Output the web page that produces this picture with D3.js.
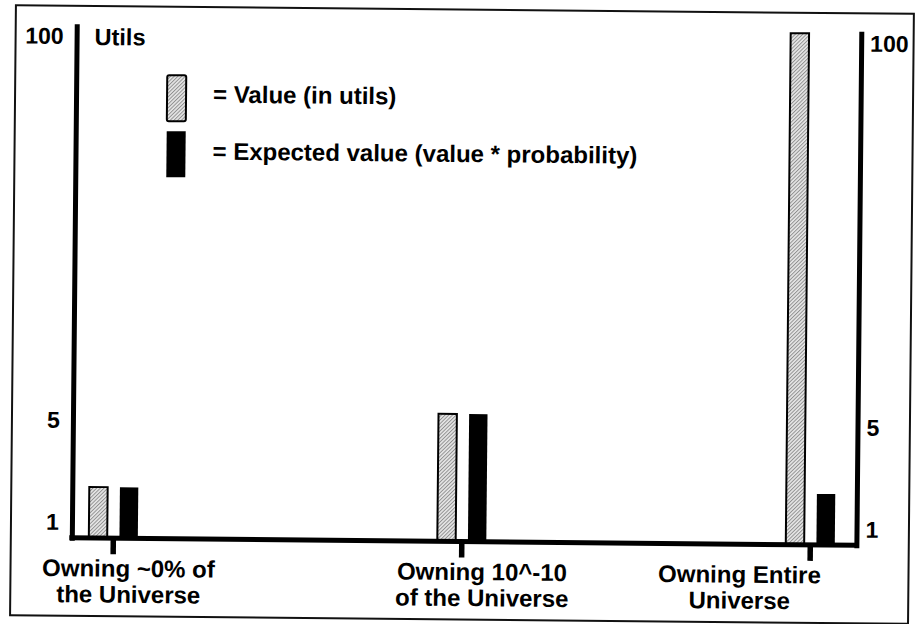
<!DOCTYPE html>
<html>
<head>
<meta charset="utf-8">
<script src="https://cdn.jsdelivr.net/npm/d3@7"></script>
<style>
body { margin: 0; background: #fff; }
text { font-family: "Liberation Sans", Arial, sans-serif; font-weight: bold; fill: #000; }
</style>
</head>
<body>
<svg id="chart" width="919" height="624"></svg>
<script>
// data
const categories = ["Owning ~0% of the Universe", "Owning 10^-10 of the Universe", "Owning Entire Universe"];
const categoryLines = [["Owning ~0% of", "the Universe"], ["Owning 10^-10", "of the Universe"], ["Owning Entire", "Universe"]];
const series = ["value", "expected"];
const seriesLabels = ["= Value (in utils)", "= Expected value (value * probability)"];
const values = [2, 5, 100];
const expectedValues = [2, 5, 2];
const yTicks = [1, 5, 100];
const yBreaks = [0, 5, 100];

// layout (the scan is tilted a little, so the whole drawing is rotated)
const svg = d3.select("#chart"),
    axLeft = 74, axRight = 858.6, base = 541.5, axTop = 30,
    labelShift = [16, 21, -70];

svg.append("defs").append("pattern")
    .attr("id", "hatch")
    .attr("width", 2.6).attr("height", 2.6)
    .attr("patternUnits", "userSpaceOnUse")
    .attr("patternTransform", "rotate(45)")
    .call(p => {
        p.append("rect").attr("width", 2.6).attr("height", 2.6).attr("fill", "#e6e6e6");
        p.append("line").attr("x1", 0.5).attr("y1", 0).attr("x2", 0.5).attr("y2", 2.6)
            .attr("stroke", "#8a8a8a").attr("stroke-width", 0.9);
    });

const g = svg.append("g").attr("transform", "rotate(0.55 460 312)");

g.append("rect")
    .attr("x", 13).attr("y", 9.5).attr("width", 898).attr("height", 610)
    .attr("fill", "none").attr("stroke", "#111").attr("stroke-width", 2);

const x = d3.scalePoint().domain(categories).range([115, 812]);
const xs = d3.scaleBand().domain(series).range([-24, 25]).paddingInner(0.4);
const y = d3.scaleLinear().domain(yBreaks).range([base, 414, axTop]);

// bars
const rows = categories.map((c, i) => ({ cat: c, value: values[i], expected: expectedValues[i] }));
const groups = g.selectAll(".grp").data(rows).join("g")
    .attr("class", "grp")
    .attr("transform", d => `translate(${x(d.cat)},0)`);

groups.selectAll("rect")
    .data(d => series.map(s => ({ s: s, v: d[s] })))
    .join("rect")
    .attr("x", d => xs(d.s))
    .attr("y", d => y(d.v))
    .attr("width", xs.bandwidth())
    .attr("height", d => base - y(d.v))
    .attr("fill", d => d.s == "value" ? "url(#hatch)" : "#000")
    .attr("stroke", d => d.s == "value" ? "#000" : "none")
    .attr("stroke-width", 2);

// axes
const axisL = g.append("g").attr("transform", `translate(${axLeft},0)`)
    .call(d3.axisLeft(y).tickValues(yTicks).tickSize(0).tickPadding(13).tickFormat(d3.format("d")));
const axisR = g.append("g").attr("transform", `translate(${axRight},0)`)
    .call(d3.axisRight(y).tickValues(yTicks).tickSize(0).tickPadding(9).tickFormat(d3.format("d")));
[axisL, axisR].forEach(a => {
    a.attr("font-family", null).attr("font-size", null);
    a.select(".domain").attr("stroke", "#000").attr("stroke-width", 5).attr("stroke-linecap", "square");
    a.selectAll("text").attr("font-size", 23).attr("dy", "0.75em");
});

g.append("line")
    .attr("x1", axLeft - 2.5).attr("x2", axRight + 2.5)
    .attr("y1", base).attr("y2", base)
    .attr("stroke", "#000").attr("stroke-width", 5);

const axisB = g.append("g").attr("transform", `translate(0,${base})`)
    .call(d3.axisBottom(x).tickSize(16).tickFormat(""));
axisB.select(".domain").remove();
axisB.selectAll("line").attr("stroke", "#000").attr("stroke-width", 5.5);

// category labels
g.selectAll(".cat").data(categoryLines).join("text")
    .attr("class", "cat")
    .attr("text-anchor", "middle")
    .attr("font-size", 24)
    .attr("transform", (d, i) => `translate(${x(categories[i]) + labelShift[i]},580)`)
    .selectAll("tspan").data(d => d).join("tspan")
    .attr("x", 0)
    .attr("y", (d, j) => j * 26)
    .text(d => d);

g.append("text").attr("x", 92).attr("y", 48.5).attr("font-size", 23.5).text("Utils");

// legend
const legend = g.selectAll(".leg").data(series).join("g")
    .attr("class", "leg")
    .attr("transform", (d, i) => `translate(165,${78 + i * 56})`);
legend.append("rect")
    .attr("width", 19).attr("height", 46)
    .attr("rx", d => d == "value" ? 2 : 0)
    .attr("fill", d => d == "value" ? "url(#hatch)" : "#000")
    .attr("stroke", d => d == "value" ? "#000" : "none")
    .attr("stroke-width", 2);
legend.append("text")
    .attr("x", 46).attr("y", (d, i) => 27 + i)
    .attr("font-size", 24)
    .text((d, i) => seriesLabels[i]);
</script>
</body>
</html>
